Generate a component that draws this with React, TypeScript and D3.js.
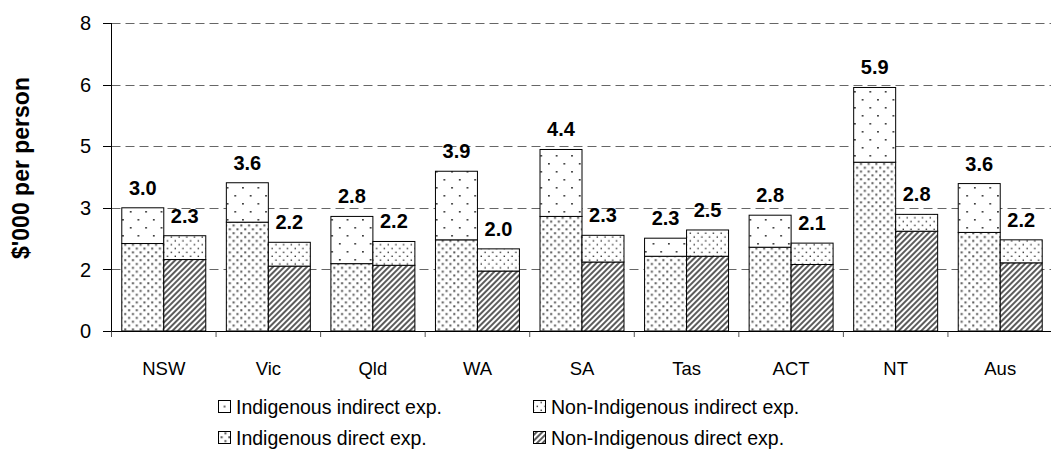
import React from "react";
import * as d3 from "d3";

const categories = ["NSW", "Vic", "Qld", "WA", "SA", "Tas", "ACT", "NT", "Aus"];
const indigDirect = [2.13, 2.65, 1.64, 2.22, 2.79, 1.82, 2.04, 4.11, 2.40];
const indigIndirect = [0.87, 0.96, 1.15, 1.67, 1.63, 0.44, 0.78, 1.82, 1.19];
const nonIndigDirect = [1.74, 1.58, 1.60, 1.46, 1.68, 1.82, 1.62, 2.43, 1.66];
const nonIndigIndirect = [0.58, 0.58, 0.58, 0.54, 0.65, 0.64, 0.52, 0.41, 0.56];
const yTicks = [0, 1.5, 3, 4.5, 6, 7.5];
const yTickLabels = ["0", "2", "3", "5", "6", "8"];
const legendItems = [
  { label: "Indigenous indirect exp.", pat: "pIndIndirectL" },
  { label: "Non-Indigenous indirect exp.", pat: "pNonIndirect" },
  { label: "Indigenous direct exp.", pat: "pIndDirect" },
  { label: "Non-Indigenous direct exp.", pat: "pNonDirect" },
];

const W = 1051;
const H = 466;
const FONT = "Arial, 'Liberation Sans', Helvetica, sans-serif";

export default function App() {
  const x = d3.scaleBand<string>().domain(categories).range([111.5, 1052.5]).paddingInner(0).paddingOuter(0);
  const inner = d3.scaleBand<string>().domain(["ind", "non"]).range([0, x.bandwidth()]).paddingInner(0).paddingOuter(0.245);
  const y = d3.scaleLinear().domain([0, 7.5]).range([331, 23]);
  const fmt = d3.format(".1f");

  const groups = categories.map((c, i) => ({
    c,
    ind: [
      { y0: 0, y1: indigDirect[i], pat: "pIndDirect" },
      { y0: indigDirect[i], y1: indigDirect[i] + indigIndirect[i], pat: "pIndIndirect" },
    ],
    non: [
      { y0: 0, y1: nonIndigDirect[i], pat: "pNonDirect" },
      { y0: nonIndigDirect[i], y1: nonIndigDirect[i] + nonIndigIndirect[i], pat: "pNonIndirect" },
    ],
  }));

  const boundaries = d3.range(categories.length + 1).map((k) => 111.5 + k * x.step());

  return (
    <svg width={W} height={H} style={{ position: "absolute", left: 0, top: 0, background: "#fff" }} fontFamily={FONT}>
      <defs>
        <pattern id="pIndIndirect" patternUnits="userSpaceOnUse" width={15.4} height={16}>
          <rect width={15.4} height={16} fill="#fff" />
          <rect x={3} y={3} width={1.6} height={1.6} fill="#222" />
          <rect x={10.7} y={11} width={1.6} height={1.6} fill="#222" />
        </pattern>
        <pattern id="pIndIndirectL" patternUnits="objectBoundingBox" width={1} height={1}>
          <rect width={12} height={12} fill="#fff" />
          <rect x={5.3} y={5.3} width={1.6} height={1.6} fill="#222" />
        </pattern>
        <pattern id="pNonIndirect" patternUnits="userSpaceOnUse" width={7.7} height={7.7}>
          <rect width={7.7} height={7.7} fill="#fff" />
          <rect x={1.5} y={1.5} width={1.4} height={1.4} fill="#333" />
          <rect x={5.35} y={5.35} width={1.4} height={1.4} fill="#333" />
        </pattern>
        <pattern id="pIndDirect" patternUnits="userSpaceOnUse" width={7.7} height={7.7}>
          <rect width={7.7} height={7.7} fill="#fff" />
          <rect x={1.2} y={1.2} width={2} height={2} fill="#555" />
          <rect x={5.05} y={5.05} width={2} height={2} fill="#555" />
        </pattern>
        <pattern id="pNonDirect" patternUnits="userSpaceOnUse" width={4} height={4} patternTransform="rotate(45)">
          <rect width={4} height={4} fill="#fff" />
          <line x1={1} y1={0} x2={1} y2={4} stroke="#333" strokeWidth={1.6} />
        </pattern>
      </defs>

      {/* gridlines */}
      {yTicks.slice(1).map((t) => (
        <line key={"g" + t} x1={111.5} x2={1052} y1={Math.round(y(t)) + 0.5} y2={Math.round(y(t)) + 0.5}
          stroke="#666" strokeWidth={1} strokeDasharray="9,5" />
      ))}

      {/* bars */}
      {groups.map((g) => (
        <g key={g.c} transform={`translate(${x(g.c)},0)`}>
          {(["ind", "non"] as const).map((k) =>
            g[k].map((s, j) => (
              <rect key={k + j} x={inner(k)} width={inner.bandwidth()} y={y(s.y1)} height={y(s.y0) - y(s.y1)}
                fill={`url(#${s.pat})`} stroke="#000" strokeWidth={1} />
            ))
          )}
          {(["ind", "non"] as const).map((k) => {
            const top = g[k][1].y1;
            return (
              <text key={"l" + k} x={(inner(k) as number) + inner.bandwidth() / 2} y={y(top) - 13}
                textAnchor="middle" fontWeight="bold" fontSize={20} fill="#000">
                {fmt(top)}
              </text>
            );
          })}
        </g>
      ))}

      {/* axes */}
      <line x1={111.5} x2={111.5} y1={23} y2={336} stroke="#000" strokeWidth={1} />
      <line x1={103} x2={1052} y1={331.5} y2={331.5} stroke="#000" strokeWidth={1} />
      {yTicks.map((t) => (
        <line key={"yt" + t} x1={103} x2={111.5} y1={Math.round(y(t)) + 0.5} y2={Math.round(y(t)) + 0.5} stroke="#000" />
      ))}
      {boundaries.map((b, i) => (
        <line key={"xt" + i} x1={b} x2={b} y1={331.5} y2={337} stroke="#555" />
      ))}
      {yTicks.map((t, i) => (
        <text key={"yl" + t} x={91} y={y(t)} dy="0.36em" textAnchor="end" fontSize={20} fill="#000">
          {yTickLabels[i]}
        </text>
      ))}
      {categories.map((c) => (
        <text key={"xl" + c} x={(x(c) as number) + x.bandwidth() / 2} y={375} textAnchor="middle" fontSize={18.5} fill="#000">
          {c}
        </text>
      ))}

      <text transform={`translate(29,168) rotate(-90)`} textAnchor="middle" fontWeight="bold" fontSize={23} fill="#000">
        $'000 per person
      </text>

      {/* legend */}
      {legendItems.map((it, i) => {
        const col = i % 2;
        const row = Math.floor(i / 2);
        const lx = col === 0 ? 218 : 533;
        const ly = 406 + row * 31;
        return (
          <g key={it.label}>
            <rect x={lx + 0.5} y={ly - 5.5} width={12} height={12} fill={`url(#${it.pat})`} stroke="#000" strokeWidth={1} />
            <text x={lx + 18} y={ly + 1} dy="0.35em" fontSize={19.5} fill="#000">
              {it.label}
            </text>
          </g>
        );
      })}
    </svg>
  );
}
